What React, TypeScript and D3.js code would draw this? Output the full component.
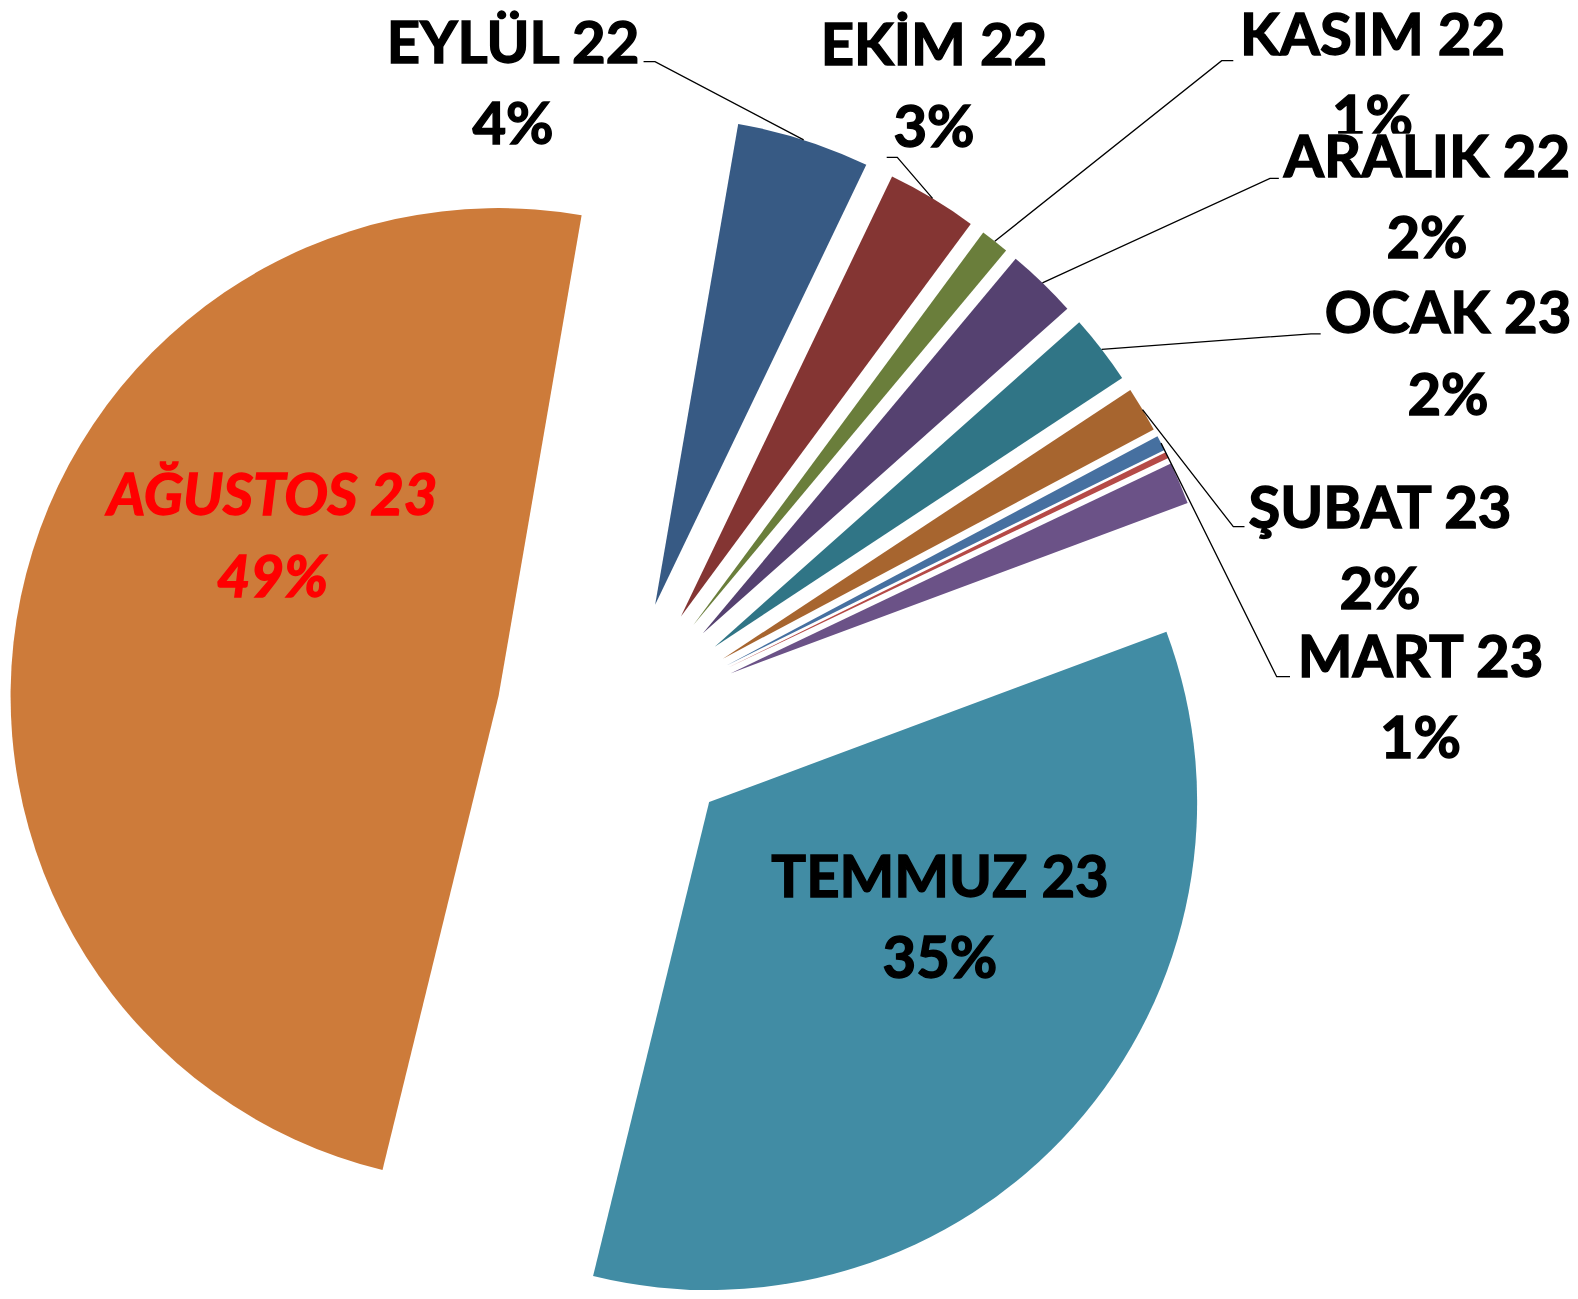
import React, { useRef, useEffect } from 'react';
import * as d3 from 'd3';

// months, Eylül 2022 .. Ağustos 2023 (Mayıs 23 is not visible in the chart)
const months = ['EYLÜL 22', 'EKİM 22', 'KASIM 22', 'ARALIK 22', 'OCAK 23', 'ŞUBAT 23', 'MART 23', 'NİSAN 23', 'HAZİRAN 23', 'TEMMUZ 23', 'AĞUSTOS 23'];
const shares = [4.4, 3.0, 0.95, 2.35, 2.3, 1.5, 0.5, 0.2, 1.4, 34.5, 48.9];
const colors = ['#375A84', '#843533', '#6A7E3B', '#554170', '#307586', '#A7652F', '#4670A0', '#B54A47', '#6B5287', '#418CA4', '#CD7B3A'];

// where each data label sits: [centerX, firstBaseline, elbowX, elbowY, endX]; inside labels have no leader
const labelLayout = [
    [513, 62.7, 655, 61.7, 643.3],
    [934, 65, 897.3, 157.3, 886.7],
    [1372.5, 55, 1221.7, 60.7, 1233.3],
    [1427, 176.7, 1270, 178.3, 1281.7],
    [1448, 333.3, 1311, 333.8, 1323.3],
    [1380, 527.7, 1233.3, 526.7, 1245.7],
    [1420.5, 676.7, 1276.7, 676.7, 1290],
    null,
    null,
    [940, 896.7],
    [272.5, 515],
];

const width = 1578;
const height = 1299;
const cx = 618;
const cy = 721;
const radius = 488;
const explode = 122;
const firstSliceAngle = 9.8;
const fontSize = 58;
const lineGap = 81.5;

function App() {
    const ref = useRef();

    useEffect(() => {
        const svg = d3.select(ref.current);
        svg.selectAll('*').remove();

        const total = d3.sum(shares);
        const start = (firstSliceAngle * Math.PI) / 180;
        const pie = d3.pie().sort(null).startAngle(start).endAngle(start + 2 * Math.PI);
        const arcs = pie(shares);
        const arc = d3.arc().innerRadius(0).outerRadius(radius);

        const offset = (a) => {
            const mid = (a.startAngle + a.endAngle) / 2;
            return [cx + explode * Math.sin(mid), cy - explode * Math.cos(mid)];
        };

        svg.append('g')
            .selectAll('path')
            .data(arcs)
            .join('path')
            .attr('transform', (d) => `translate(${offset(d)})`)
            .attr('d', arc)
            .attr('fill', (d, i) => colors[i]);

        // leader lines from the outer middle of each slice
        const leaders = svg.append('g').attr('fill', 'none').attr('stroke', '#000').attr('stroke-width', 1.3);
        arcs.forEach((d, i) => {
            const lay = labelLayout[i];
            if (!lay || lay.length < 5) return;
            const [ox, oy] = offset(d);
            const mid = (d.startAngle + d.endAngle) / 2;
            const p0 = [ox + radius * Math.sin(mid), oy - radius * Math.cos(mid)];
            leaders.append('path')
                .attr('d', d3.line()([p0, [lay[2], lay[3]], [lay[4], lay[3]]]));
        });

        const labels = svg.append('g')
            .attr('font-family', 'Lato, Calibri, "Open Sans", sans-serif')
            .attr('font-weight', 700)
            .attr('font-size', fontSize)
            .attr('text-anchor', 'middle');

        arcs.forEach((d, i) => {
            const lay = labelLayout[i];
            if (!lay) return;
            const inside = lay.length < 5;
            const last = i === arcs.length - 1;
            const pct = Math.round((d.data * 100) / total + 1e-9) + '%';
            const g = labels.append('g');
            const bg = g.append('rect').attr('fill', '#fff');
            const t = g.append('text')
                .attr('fill', last ? '#FF0000' : '#000')
                .attr('stroke', last ? '#FF0000' : '#000')
                .attr('stroke-width', 1.4)
                .attr('font-style', last ? 'italic' : 'normal');
            t.append('tspan').attr('x', lay[0]).attr('y', lay[1]).text(months[i]);
            t.append('tspan').attr('x', lay[0]).attr('y', lay[1] + lineGap).text(pct);
            if (inside) {
                bg.remove();
            } else {
                // label box only matters where a label sits over the one above it
                const b = t.node().getBBox();
                bg.attr('x', b.x - 4)
                    .attr('y', lay[1] - 43)
                    .attr('width', b.width + 8)
                    .attr('height', 55);
            }
        });
    }, []);

    return (
        <svg
            ref={ref}
            width={width}
            height={height}
            style={{ position: 'absolute', left: 0, top: 0, display: 'block', background: '#fff' }}
        ></svg>
    );
}

export default App;
